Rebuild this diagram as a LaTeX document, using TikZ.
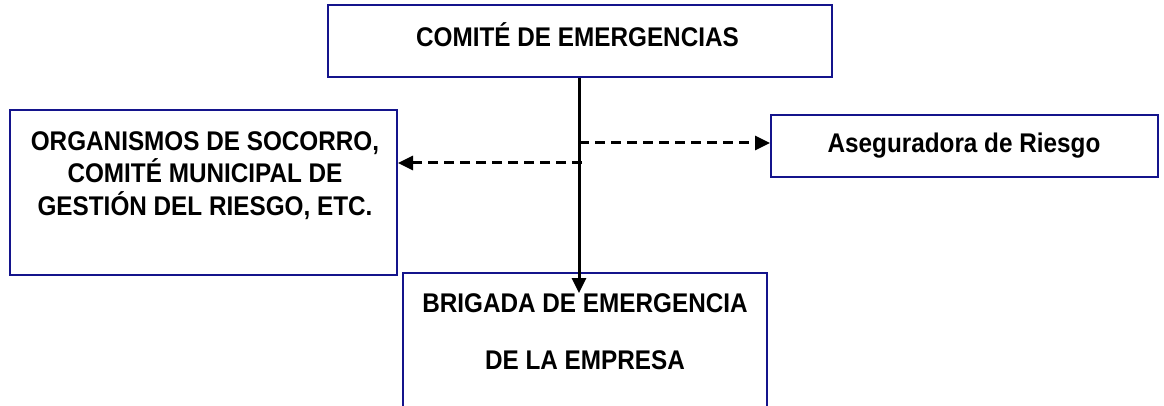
\documentclass[tikz,border=0pt]{standalone}
\usepackage{fontspec}
\setmainfont{Liberation Sans}[FakeStretch=0.9]
\usetikzlibrary{positioning,calc,arrows.meta}
\definecolor{azul}{RGB}{20,20,140}

\begin{document}
\begin{tikzpicture}
	[   x=1pt,y=-1pt,
	    caja/.style={draw=azul,line width=2pt,inner sep=0pt},
	    texto/.style={font=\fontsize{27}{32.4}\selectfont\bfseries,align=center,inner sep=0pt,anchor=base},
	]
	\tikzset{normal arrow/.style={draw,line width=3pt,-{Triangle[length=15pt,width=14pt]}}}
	\tikzset{dash arrow/.style={normal arrow,dash pattern=on 10pt off 6pt}}
	\useasboundingbox (0,0) rectangle (1164,406);

	\node[caja,minimum width=504,minimum height=72] (comite) at (580,41) {};
	\node[texto] (comite-t) at (577.5,47) {COMITÉ DE EMERGENCIAS};

	\node[caja,minimum width=387,minimum height=165] (socorro) at (203.5,192.5) {};
	\node[texto] (socorro-t) at (205,215) {ORGANISMOS DE SOCORRO,\\COMITÉ MUNICIPAL DE\\GESTIÓN DEL RIESGO, ETC.};

	\node[caja,minimum width=387,minimum height=62] (aseg) at (964.5,146) {};
	\node[texto] (aseg-t) at (964,153) {Aseguradora de Riesgo};

	\node[caja,minimum width=364,minimum height=170] (brigada) at (585,358) {};
	\node[texto] (brigada-t) at (585,369) {BRIGADA DE EMERGENCIA\\[24.6pt]DE LA EMPRESA};

	\coordinate (punta) at (579,293);
	\coordinate (der) at (579,143);
	\coordinate (izq) at (582,163);

	\path[normal arrow] (comite.south -| punta) -- (punta);
	\path[dash arrow] (der) -- (der -| aseg.west);
	\path[dash arrow] (izq) -- (izq -| socorro.east);
\end{tikzpicture}
\end{document}
